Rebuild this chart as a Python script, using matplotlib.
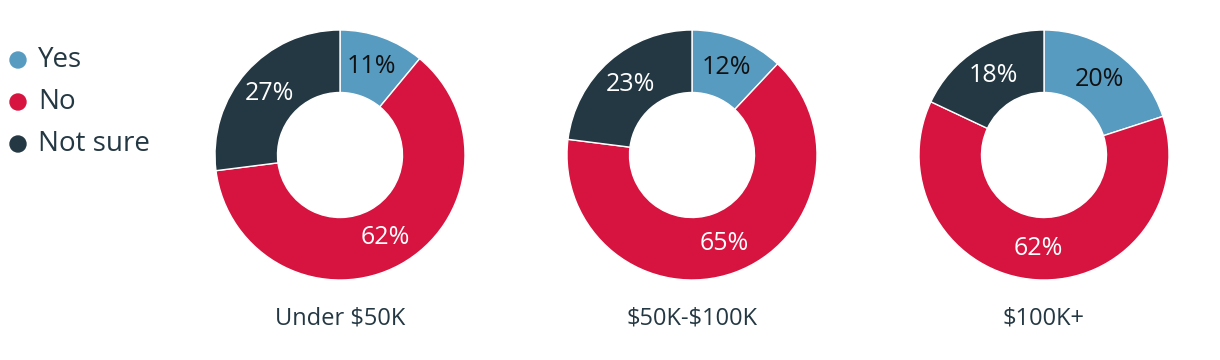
import matplotlib.pyplot as plt
from matplotlib.patches import Ellipse

plt.rcParams['font.family'] = ['Open Sans', 'DejaVu Sans']
plt.rcParams['text.parse_math'] = False

groups = ['Under $50K', '$50K-$100K', '$100K+']
answers = ['Yes', 'No', 'Not sure']
yes = [11, 12, 20]
no = [62, 65, 62]
not_sure = [27, 23, 18]

colors = ['#579bc1', '#d6143f', '#243843']
label_colors = ['#111111', 'white', 'white']
text_color = '#243843'

W, H = 1220, 360
fig = plt.figure(figsize=(W / 100, H / 100), dpi=100)

centers = [340, 692, 1044]
cy = 155
r = 125

for i, g in enumerate(groups):
    cx = centers[i]
    ax = fig.add_axes([(cx - r) / W, (H - cy - r) / H, 2 * r / W, 2 * r / H])
    vals = [yes[i], no[i], not_sure[i]]
    wedges, texts = ax.pie(vals, colors=colors, startangle=90, counterclock=False,
                           radius=1, labels=[f'{v}%' for v in vals], labeldistance=0.75,
                           wedgeprops=dict(width=0.5, edgecolor='white', linewidth=1))
    for t, c in zip(texts, label_colors):
        t.set_color(c)
        t.set_fontsize(18)
        t.set_ha('center')
        t.set_va('center')
    ax.set_xlim(-1, 1)
    ax.set_ylim(-1, 1)
    ax.set_aspect('equal')
    ax.axis('off')
    fig.text(cx / W, 1 - 318 / H, g, ha='center', va='center',
             fontsize=17, color=text_color)

# legend
for j, (a, c) in enumerate(zip(answers, colors)):
    y = 60 + 42 * j
    fig.text(38 / W, 1 - y / H, a, ha='left', va='center', fontsize=20, color=text_color)
    fig.add_artist(Ellipse((18 / W, 1 - y / H), 16 / W, 16 / H, color=c,
                           transform=fig.transFigure))

fig.savefig('out.png', dpi=100)
